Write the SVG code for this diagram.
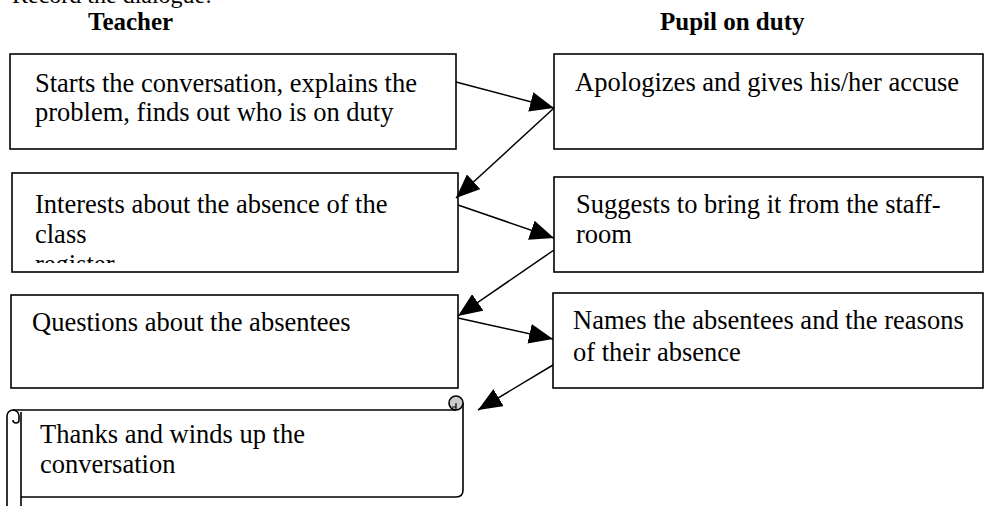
<svg xmlns="http://www.w3.org/2000/svg" width="990" height="506" viewBox="0 0 990 506">
<defs>
<style>
.box{fill:#fff;stroke:#000;stroke-width:1.6}
.t{font-family:"Liberation Serif","Times New Roman",serif;font-size:26.5px;fill:#000}
.h{font-family:"Liberation Serif","Times New Roman",serif;font-size:25px;font-weight:bold;fill:#000}
.c{stroke:#000;stroke-width:1.5;fill:none;marker-end:url(#ah)}
</style>
<marker id="ah" markerUnits="userSpaceOnUse" markerWidth="26" markerHeight="20" refX="24" refY="10" orient="auto">
<path d="M0,0 L24,10 L0,20 Z" fill="#000"/>
</marker>
<clipPath id="cl3"><rect x="12" y="173" width="446" height="90"/></clipPath>
</defs>
<rect width="990" height="506" fill="#fff"/>
<text class="t" x="12" y="3" style="font-size:24px">Record the dialogue:</text>
<text class="h" x="88" y="30">Teacher</text>
<text class="h" x="660" y="30">Pupil on duty</text>
<g id="n1"><rect class="box" x="10" y="54" width="446" height="95"/>
<text class="t" x="35" y="92">Starts the conversation, explains the</text>
<text class="t" x="35" y="121">problem, finds out who is on duty</text></g>
<g id="n2"><rect class="box" x="554" y="54" width="429" height="95"/>
<text class="t" x="575" y="91">Apologizes and gives his/her accuse</text></g>
<g id="n3"><rect class="box" x="12" y="173" width="446" height="99"/>
<g clip-path="url(#cl3)">
<text class="t" x="35" y="213">Interests about the absence of the</text>
<text class="t" x="35" y="243">class</text>
<text class="t" x="35" y="273">register</text></g></g>
<g id="n4"><rect class="box" x="554" y="177" width="429" height="95"/>
<text class="t" x="576" y="213">Suggests to bring it from the staff-</text>
<text class="t" x="576" y="243">room</text></g>
<g id="n5"><rect class="box" x="11" y="295" width="447" height="93"/>
<text class="t" x="32" y="331">Questions about the absentees</text></g>
<g id="n6"><rect class="box" x="553" y="293" width="430" height="95"/>
<text class="t" x="573" y="329">Names the absentees and the reasons</text>
<text class="t" x="573" y="361">of their absence</text></g>
<g id="n7">
<path d="M13,410 L456,410" stroke="#000" stroke-width="1.6" fill="none"/>
<path d="M463,403 L463,490 Q463,497 456,497 L21,497" stroke="#000" stroke-width="1.6" fill="none"/>
<path d="M7,506 L7,416 A6,6 0 0 1 19,416 L19,420 A3,3 0 0 1 13,420" stroke="#000" stroke-width="1.6" fill="none"/>
<path d="M21,412 L21,506" stroke="#000" stroke-width="1.6" fill="none"/>
<circle cx="456" cy="403" r="7" fill="#ccc" stroke="#000" stroke-width="1.6"/>
<path d="M456,403 L456,410 M452,407 L456,407" stroke="#000" stroke-width="1.2" fill="none"/>
<text class="t" x="40" y="443">Thanks and winds up the</text>
<text class="t" x="40" y="473">conversation</text>
</g>
<g id="connectors">
<line class="c" x1="456" y1="82" x2="554" y2="108"/>
<line class="c" x1="554" y1="108" x2="456" y2="198"/>
<line class="c" x1="458" y1="205" x2="554" y2="238"/>
<line class="c" x1="554" y1="250" x2="458" y2="316"/>
<line class="c" x1="458" y1="318" x2="553" y2="339"/>
<line class="c" x1="553" y1="365" x2="478" y2="410"/>
</g>
</svg>
